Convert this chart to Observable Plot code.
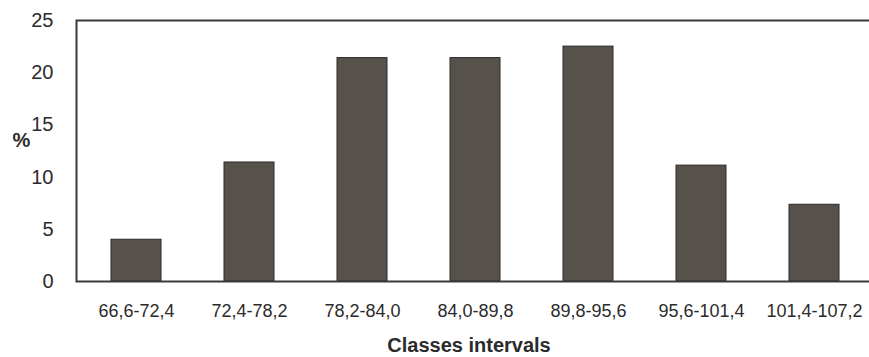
<!DOCTYPE html>
<html>
<head>
<meta charset="utf-8">
<script src="https://cdn.jsdelivr.net/npm/d3@7"></script>
<script src="https://cdn.jsdelivr.net/npm/@observablehq/plot@0.6"></script>
<style>
  html, body { margin: 0; padding: 0; background: #ffffff; }
  #chart svg { display: block; }
</style>
</head>
<body>
<div id="chart"></div>
<script>
const classes = ["66,6-72,4", "72,4-78,2", "78,2-84,0", "84,0-89,8", "89,8-95,6", "95,6-101,4", "101,4-107,2"];
const percents = [4.0, 11.4, 21.4, 21.4, 22.5, 11.1, 7.35];
const yTicks = [0, 5, 10, 15, 20, 25];
const xTitle = "Classes intervals";
const yTitle = "%";

const data = classes.map((c, i) => ({cls: c, pct: percents[i]}));

const chart = Plot.plot({
  width: 869,
  height: 357,
  marginTop: 20,
  marginBottom: 76,
  marginLeft: 76,
  marginRight: 0,
  style: {fontFamily: "'Liberation Sans', Arial, sans-serif", fontSize: "18px", color: "#2b2b2b", background: "#ffffff"},
  x: {domain: classes, paddingInner: 0.56, paddingOuter: 0.28, range: [76, 873], label: null},
  y: {domain: [0, 25], label: null},
  marks: [
    Plot.barY(data, {x: "cls", y: "pct", fill: "#57514c", stroke: "#2e2a28", strokeWidth: 1}),
    Plot.frame({stroke: "#3a3a3a", strokeWidth: 2, insetRight: -8}),
    Plot.axisY({ticks: yTicks, tickSize: 0, tickPadding: 23, fontSize: 20, label: null}),
    Plot.axisX({tickSize: 0, tickPadding: 23, fontSize: 18, label: null}),
    Plot.text([xTitle], {frameAnchor: "bottom", lineAnchor: "middle", dy: 64, dx: -4, fontSize: 20, fontWeight: "bold", fill: "#2b2b2b"}),
    Plot.text([yTitle], {frameAnchor: "left", textAnchor: "middle", lineAnchor: "middle", dx: -55, dy: -10, fontSize: 20, fontWeight: "bold", fill: "#2b2b2b"})
  ]
});
document.getElementById("chart").appendChild(chart);
</script>
</body>
</html>
